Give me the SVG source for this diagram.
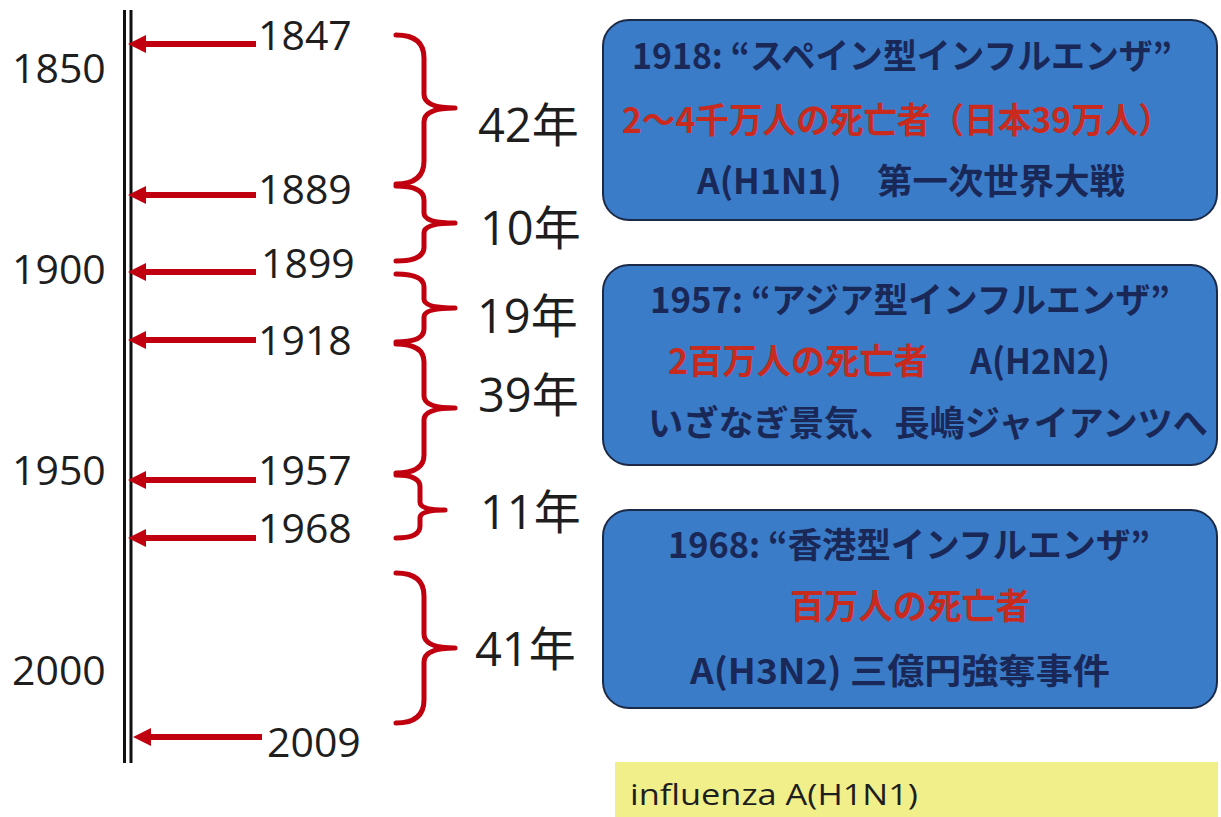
<svg xmlns="http://www.w3.org/2000/svg" width="1221" height="817" viewBox="0 0 1221 817">
<defs>
<style>
.yr{font-family:"Open Sans","Liberation Sans",sans-serif;font-size:41px;fill:#1e1e1e}
.gap{font-family:"Open Sans","Noto Sans CJK JP",sans-serif;font-size:47px;fill:#1e1e1e}
.box{fill:#3a7cc8;stroke:#1c2a48;stroke-width:2}
.bt{font-family:"Noto Sans CJK JP","Noto Sans CJK SC",sans-serif;font-size:35px;font-weight:bold;fill:#1a2858}
.red{fill:#c92a1e}
.arr{stroke:#c0000f;stroke-width:6;fill:none}
.br{stroke:#c0000f;stroke-width:5;fill:none;stroke-linecap:round;stroke-linejoin:round}
</style>
<marker id="ah" viewBox="0 0 10 10" refX="0" refY="5" markerWidth="3" markerHeight="3" orient="auto" markerUnits="strokeWidth">
<path d="M0,0 L10,5 L0,10 z" fill="#c0000f"/>
</marker>
</defs>
<rect width="1221" height="817" fill="#ffffff"/>

<g id="timeline">
<line x1="124.5" y1="10" x2="124.5" y2="763" stroke="#111" stroke-width="3"/>
<line x1="131" y1="10" x2="131" y2="763" stroke="#111" stroke-width="3"/>
<text class="yr" x="12" y="83">1850</text>
<text class="yr" x="12" y="284">1900</text>
<text class="yr" x="12" y="485">1950</text>
<text class="yr" x="12" y="685">2000</text>
</g>

<g id="connectors">
<line class="arr" x1="256" y1="44" x2="146" y2="44" marker-end="url(#ah)"/>
<line class="arr" x1="256" y1="195" x2="146" y2="195" marker-end="url(#ah)"/>
<line class="arr" x1="256" y1="272" x2="146" y2="272" marker-end="url(#ah)"/>
<line class="arr" x1="256" y1="340" x2="146" y2="340" marker-end="url(#ah)"/>
<line class="arr" x1="256" y1="480" x2="146" y2="480" marker-end="url(#ah)"/>
<line class="arr" x1="256" y1="538" x2="146" y2="538" marker-end="url(#ah)"/>
<line class="arr" x1="262" y1="737" x2="151" y2="737" marker-end="url(#ah)"/>
</g>

<g id="years">
<text class="yr" x="258" y="50">1847</text>
<text class="yr" x="258" y="204">1889</text>
<text class="yr" x="261" y="278">1899</text>
<text class="yr" x="258" y="355">1918</text>
<text class="yr" x="258" y="485">1957</text>
<text class="yr" x="258" y="543">1968</text>
<text class="yr" x="267" y="757">2009</text>
</g>

<g id="braces">
<path class="br" d="M396,35 Q424,35 424,58 L424,94 Q424,108 455,108 Q424,108 424,122 L424,161 Q424,184 396,184"/>
<path class="br" d="M396,186 Q424,186 424,200 L424,213 Q424,223 455,223 Q424,223 424,233 L424,247 Q424,261 396,261"/>
<path class="br" d="M396,274 Q424,274 424,287 L424,299 Q424,308 455,308 Q424,308 424,317 L424,329 Q424,342 396,342"/>
<path class="br" d="M396,344 Q424,344 424,362 L424,396 Q424,408 455,408 Q424,408 424,420 L424,455 Q424,473 396,473"/>
<path class="br" d="M396,475 Q420,475 420,487 L420,502 Q420,510 445,510 Q420,510 420,518 L420,526 Q420,538 396,538"/>
<path class="br" d="M396,573 Q424,573 424,596 L424,634 Q424,648 455,648 Q424,648 424,662 L424,700 Q424,723 396,723"/>
<text class="gap" x="478" y="142">42年</text>
<text class="gap" x="480" y="245">10年</text>
<text class="gap" x="477" y="333">19年</text>
<text class="gap" x="478" y="412">39年</text>
<text class="gap" x="480" y="529">11年</text>
<text class="gap" x="475" y="666">41年</text>
</g>

<g id="box1918">
<rect class="box" x="603" y="20" width="614" height="200" rx="26"/>
<text class="bt" x="632" y="69" textLength="540" lengthAdjust="spacingAndGlyphs">1918: “スペイン型インフルエンザ”</text>
<text class="bt red" x="622" y="133" textLength="550" lengthAdjust="spacingAndGlyphs">2～4千万人の死亡者（日本39万人）</text>
<text class="bt" x="697" y="194" textLength="428" lengthAdjust="spacingAndGlyphs">A(H1N1)　第一次世界大戦</text>
</g>

<g id="box1957">
<rect class="box" x="603" y="265" width="614" height="200" rx="26"/>
<text class="bt" x="650" y="313" textLength="520" lengthAdjust="spacingAndGlyphs">1957: “アジア型インフルエンザ”</text>
<text class="bt red" x="668" y="374" textLength="260" lengthAdjust="spacingAndGlyphs">2百万人の死亡者</text>
<text class="bt" x="970" y="374" textLength="140" lengthAdjust="spacingAndGlyphs">A(H2N2)</text>
<text class="bt" x="648" y="436" textLength="560" lengthAdjust="spacingAndGlyphs">いざなぎ景気、長嶋ジャイアンツへ</text>
</g>

<g id="box1968">
<rect class="box" x="603" y="510" width="614" height="198" rx="26"/>
<text class="bt" x="668" y="558" textLength="482" lengthAdjust="spacingAndGlyphs">1968: “香港型インフルエンザ”</text>
<text class="bt red" x="790" y="619" textLength="240" lengthAdjust="spacingAndGlyphs">百万人の死亡者</text>
<text class="bt" x="690" y="684" textLength="420" lengthAdjust="spacingAndGlyphs">A(H3N2) 三億円強奪事件</text>
</g>

<g id="note">
<rect x="615" y="762" width="603" height="55" fill="#f1ef8a"/>
<text x="630" y="805" font-family="Open Sans, Liberation Sans, sans-serif" font-size="29" fill="#1e1e1e" textLength="288" lengthAdjust="spacingAndGlyphs">influenza A(H1N1)</text>
</g>
</svg>
